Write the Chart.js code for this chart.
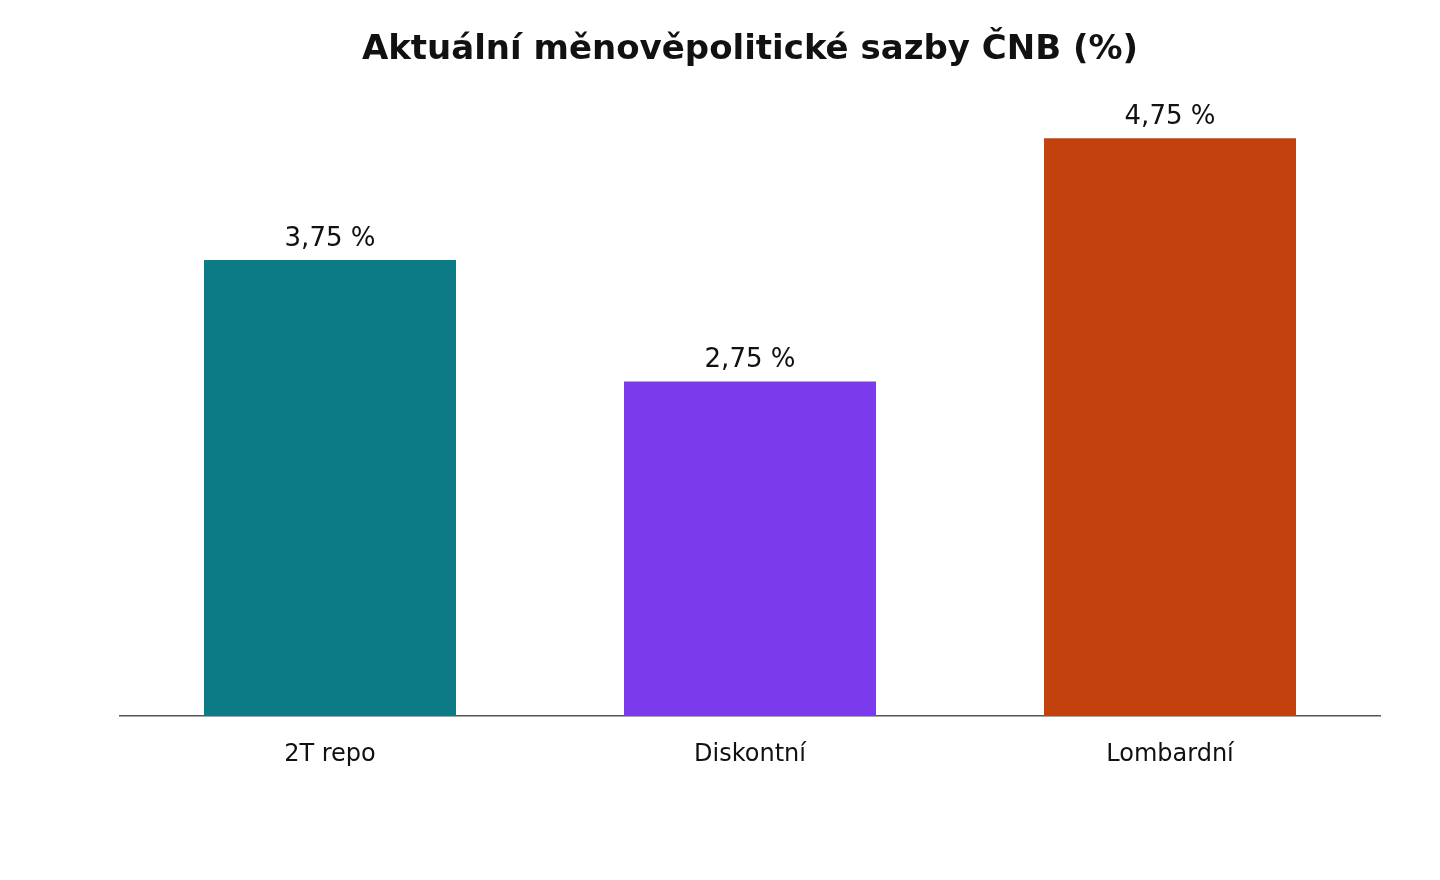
<!DOCTYPE html>
<html>
<head>
<meta charset="utf-8">
<script src="https://cdn.jsdelivr.net/npm/chart.js@4/dist/chart.umd.min.js"></script>
<style>
  html, body { margin: 0; padding: 0; background: #fff; }
  #wrap { width: 1440px; height: 880px; }
</style>
</head>
<body>
<div id="wrap"><canvas id="c"></canvas></div>
<script>
const categories = ['2T repo', 'Diskontní', 'Lombardní'];
const rates = [3.75, 2.75, 4.75];
const barColors = ['#0c7b85', '#7c3aed', '#c2410c'];

// popisky hodnot nad sloupci
const valueLabels = {
  id: 'valueLabels',
  afterDatasetsDraw(chart) {
    const ctx = chart.ctx;
    const meta = chart.getDatasetMeta(0);
    ctx.save();
    ctx.font = '26px "DejaVu Sans"';
    ctx.fillStyle = '#111';
    ctx.textAlign = 'center';
    ctx.textBaseline = 'bottom';
    meta.data.forEach((bar, i) => {
      ctx.fillText(rates[i].toFixed(2).replace('.', ',') + ' %', bar.x, bar.y - 8);
    });
    ctx.restore();
  }
};

Chart.defaults.font.family = '"DejaVu Sans"';

new Chart(document.getElementById('c'), {
  type: 'bar',
  data: {
    labels: categories,
    datasets: [{
      data: rates,
      backgroundColor: barColors,
      barPercentage: 0.6,
      categoryPercentage: 1.0
    }]
  },
  options: {
    responsive: true,
    maintainAspectRatio: false,
    animation: false,
    layout: { padding: { left: 120, right: 60, top: 0, bottom: 95 } },
    plugins: {
      legend: { display: false },
      tooltip: { enabled: false },
      title: {
        display: true,
        text: 'Aktuální měnověpolitické sazby ČNB (%)',
        color: '#111',
        font: { size: 34, weight: 'bold' },
        padding: { top: 30, bottom: 37 }
      }
    },
    scales: {
      x: {
        grid: { display: false },
        border: { display: true, color: '#555', width: 1.5 },
        ticks: { color: '#111', font: { size: 24 }, padding: 16 }
      },
      y: {
        display: false,
        min: 0,
        max: 5
      }
    }
  },
  plugins: [valueLabels]
});
</script>
</body>
</html>
